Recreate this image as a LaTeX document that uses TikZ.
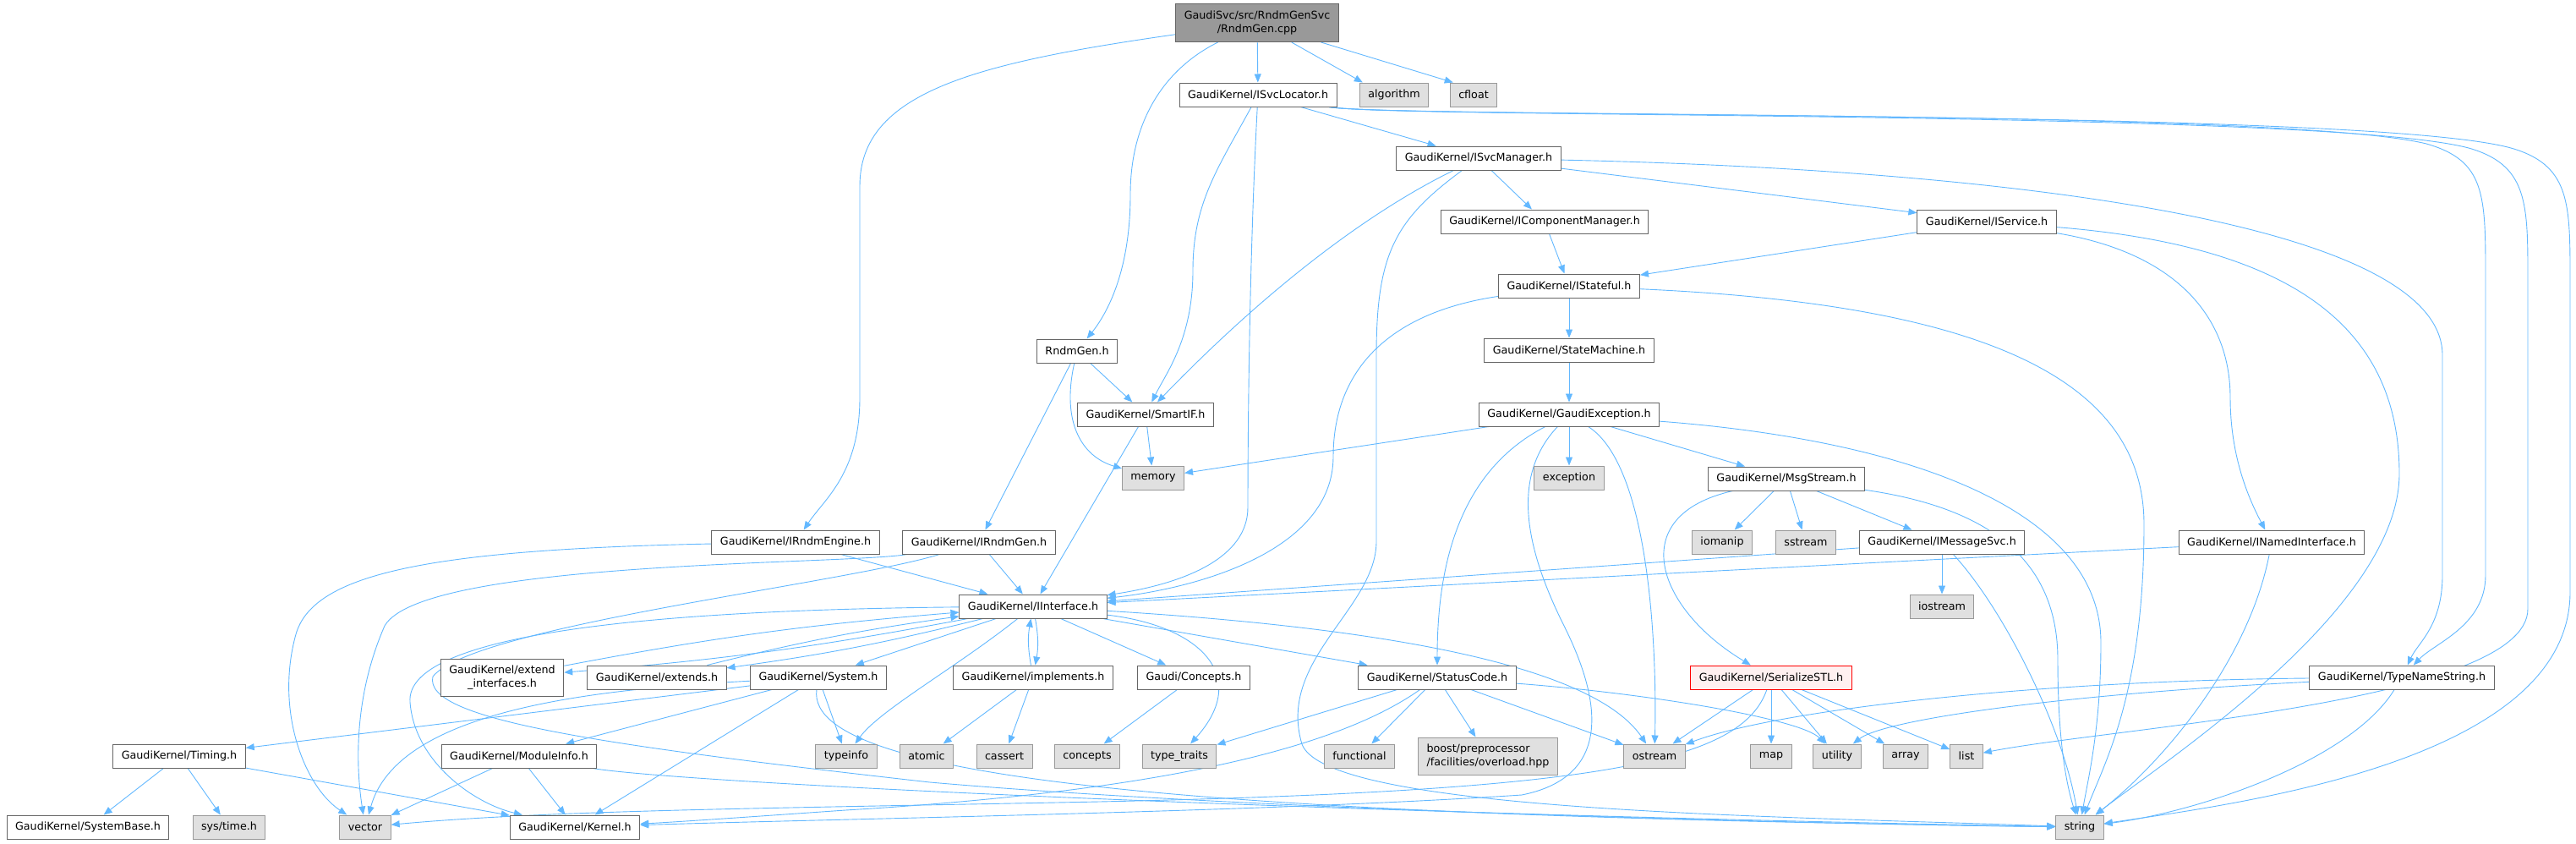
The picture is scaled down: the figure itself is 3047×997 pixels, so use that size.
\documentclass[tikz,border=0pt]{standalone}
\usepackage{fontspec}
\setmainfont{DejaVu Sans}
\usetikzlibrary{arrows.meta}
\definecolor{deplink}{HTML}{63B8FF}
\definecolor{hdrline}{HTML}{666666}
\definecolor{sysline}{HTML}{999999}
\definecolor{sysfill}{HTML}{E0E0E0}
\definecolor{srcfill}{HTML}{999999}
\definecolor{truncfill}{HTML}{FFF0F0}
\pgfdeclarelayer{bg}
\pgfsetlayers{bg,main}

\begin{document}
\begin{tikzpicture}[
        x=1pt, y=-1pt,
        every node/.style={font=\fontsize{12.7}{16}\selectfont},
        hdr/.style={rectangle, draw=hdrline, fill=white, line width=1pt, inner xsep=10pt, inner ysep=0pt, minimum height=28pt},
        syshdr/.style={hdr, draw=sysline, fill=sysfill},
        srcfile/.style={hdr, fill=srcfill, align=center, minimum height=45pt},
        trunchdr/.style={hdr, draw=red, fill=truncfill},
        dep/.style={draw=deplink, line width=0.9pt, ->, >={Triangle[length=10pt,width=8pt]}}
    ]
    \useasboundingbox (0,0) rectangle (3047,997);

    % Nodes
    \node (src) [srcfile] at (1487,27) {GaudiSvc/src/RndmGenSvc\\/RndmGen.cpp};
    \node (svcloc) [hdr] at (1488,112) {GaudiKernel/ISvcLocator.h};
    \node (algorithm) [syshdr] at (1649,112) {algorithm};
    \node (cfloat) [syshdr] at (1743,112) {cfloat};
    \node (svcmgr) [hdr] at (1749,187) {GaudiKernel/ISvcManager.h};
    \node (compmgr) [hdr] at (1827,262) {GaudiKernel/IComponentManager.h};
    \node (iservice) [hdr] at (2350,262) {GaudiKernel/IService.h};
    \node (istateful) [hdr] at (1856,338) {GaudiKernel/IStateful.h};
    \node (rndmgen) [hdr] at (1274,415) {RndmGen.h};
    \node (statemach) [hdr] at (1856,414) {GaudiKernel/StateMachine.h};
    \node (smartif) [hdr] at (1355,490) {GaudiKernel/SmartIF.h};
    \node (gexc) [hdr] at (1856,490) {GaudiKernel/GaudiException.h};
    \node (memory) [syshdr] at (1364,565) {memory};
    \node (exception) [syshdr] at (1856,565) {exception};
    \node (msgstream) [hdr] at (2113,566) {GaudiKernel/MsgStream.h};
    \node (irndmeng) [hdr] at (941,641) {GaudiKernel/IRndmEngine.h};
    \node (irndmgen) [hdr] at (1158,641) {GaudiKernel/IRndmGen.h};
    \node (iomanip) [syshdr] at (2037,641) {iomanip};
    \node (sstream) [syshdr] at (2136,641) {sstream};
    \node (imsgsvc) [hdr] at (2297,641) {GaudiKernel/IMessageSvc.h};
    \node (inamed) [hdr] at (2687,641) {GaudiKernel/INamedInterface.h};
    \node (iinterface) [hdr] at (1222,717) {GaudiKernel/IInterface.h};
    \node (iostream) [syshdr] at (2297,717) {iostream};
    \node (extifaces) [hdr, align=center, minimum height=44pt] at (594,801) {GaudiKernel/extend\\\_interfaces.h};
    \node (extends) [hdr] at (777,801) {GaudiKernel/extends.h};
    \node (system) [hdr] at (968,801) {GaudiKernel/System.h};
    \node (implements) [hdr] at (1222,801) {GaudiKernel/implements.h};
    \node (conceptsh) [hdr] at (1412,801) {Gaudi/Concepts.h};
    \node (statuscode) [hdr] at (1700,801) {GaudiKernel/StatusCode.h};
    \node (serialize) [trunchdr] at (2095,801) {GaudiKernel/SerializeSTL.h};
    \node (typename) [hdr] at (2841,801) {GaudiKernel/TypeNameString.h};
    \node (timing) [hdr] at (212,894) {GaudiKernel/Timing.h};
    \node (moduleinfo) [hdr] at (614,894) {GaudiKernel/ModuleInfo.h};
    \node (typeinfo) [syshdr] at (1001,894) {typeinfo};
    \node (atomic) [syshdr] at (1096,894) {atomic};
    \node (cassert) [syshdr] at (1188,894) {cassert};
    \node (concepts) [syshdr] at (1286,894) {concepts};
    \node (typetraits) [syshdr] at (1395,894) {type\_traits};
    \node (functional) [syshdr] at (1608,894) {functional};
    \node (boost) [syshdr, align=left, minimum height=44pt] at (1760,894) {boost/preprocessor\\/facilities/overload.hpp};
    \node (ostream) [syshdr] at (1957,894) {ostream};
    \node (map) [syshdr] at (2095,894) {map};
    \node (utility) [syshdr] at (2173,894) {utility};
    \node (array) [syshdr] at (2254,894) {array};
    \node (list) [syshdr] at (2326,894) {list};
    \node (systembase) [hdr] at (104,978) {GaudiKernel/SystemBase.h};
    \node (systime) [syshdr] at (271,978) {sys/time.h};
    \node (vector) [syshdr] at (432,978) {vector};
    \node (kernel) [hdr] at (680,978) {GaudiKernel/Kernel.h};
    \node (string) [syshdr] at (2460,978) {string};

    % Arrows
    \begin{pgfonlayer}{bg}
    \draw [dep] (src) -- (svcloc);
    \draw [dep] (src) -- ([xshift=4pt]algorithm.north west);
    \draw [dep] (src) -- ([xshift=4pt]cfloat.north west);
    \draw [dep] (src) .. controls (1380,80) and (1337,140) .. (1337,230) .. controls (1337,320) and (1310,370) .. (rndmgen);
    \draw [dep] (src) .. controls (1150,75) and (1017,110) .. (1017,220) -- (1017,470) .. controls (1017,560) and (975,590) .. (irndmeng);

    \draw [dep] (svcloc) -- (svcmgr);
    \draw [dep] (svcloc) .. controls (1440,200) and (1411,240) .. (1411,320) .. controls (1411,400) and (1380,440) .. (smartif);
    \draw [dep] (svcloc) .. controls (1478,300) and (1476,500) .. (1476,600) .. controls (1476,660) and (1400,690) .. (iinterface);
    \draw [dep] (svcloc) .. controls (1650,140) and (2700,128) .. (2870,170) .. controls (2940,190) and (2940,230) .. (2940,330) -- (2940,680) .. controls (2940,740) and (2880,760) .. (typename);
    \draw [dep] (svcloc) .. controls (1650,140) and (2750,130) .. (2920,175) .. controls (2990,195) and (2990,240) .. (2990,330) -- (2990,720) .. controls (2990,830) and (2500,860) .. (list);
    \draw [dep] (svcloc) .. controls (1650,140) and (2800,128) .. (2970,175) .. controls (3040,195) and (3040,240) .. (3040,330) -- (3040,700) .. controls (3040,900) and (2650,950) .. (string);

    \draw [dep] (svcmgr) -- (compmgr);
    \draw [dep] (svcmgr) -- (iservice);
    \draw [dep] (svcmgr) .. controls (2350,200) and (2889,260) .. (2889,420) -- (2889,680) .. controls (2889,740) and (2860,760) .. (typename);
    \draw [dep] (svcmgr) .. controls (1620,250) and (1500,340) .. (smartif);
    \draw [dep] (svcmgr) .. controls (1650,260) and (1628,300) .. (1628,420) -- (1628,640) .. controls (1628,720) and (1510,780) .. (1540,880) .. controls (1570,960) and (2100,965) .. (string);

    \draw [dep] (compmgr) -- (istateful);
    \draw [dep] (iservice) -- (istateful);
    \draw [dep] (iservice) .. controls (2580,300) and (2638,380) .. (2638,470) .. controls (2638,540) and (2660,590) .. (inamed);
    \draw [dep] (iservice) .. controls (2700,290) and (2838,380) .. (2838,560) .. controls (2838,720) and (2560,900) .. (string);

    \draw [dep] (istateful) -- (statemach);
    \draw [dep] (istateful) .. controls (1640,370) and (1577,440) .. (1577,540) .. controls (1577,650) and (1420,695) .. (iinterface);
    \draw [dep] (istateful) .. controls (2350,360) and (2536,450) .. (2536,620) .. controls (2536,820) and (2490,900) .. (string);
    \draw [dep] (statemach) -- (gexc);

    \draw [dep] (gexc) -- (memory);
    \draw [dep] (gexc) -- (exception);
    \draw [dep] (gexc) -- (msgstream);
    \draw [dep] (gexc) .. controls (1720,560) and (1700,680) .. (statuscode);
    \draw [dep] (gexc) .. controls (1790,560) and (1800,640) .. (1850,740) .. controls (1900,840) and (1900,920) .. (1800,940) .. controls (1500,960) and (1000,968) .. (kernel);
    \draw [dep] (gexc) .. controls (1950,550) and (1960,760) .. (ostream);
    \draw [dep] (gexc) .. controls (2250,520) and (2485,600) .. (2485,760) .. controls (2485,860) and (2470,920) .. (string);

    \draw [dep] (rndmgen) -- (smartif);
    \draw [dep] (rndmgen) -- (irndmgen);
    \draw [dep] (rndmgen) .. controls (1255,500) and (1280,540) .. (memory);
    \draw [dep] (smartif) -- (iinterface);
    \draw [dep] (smartif) -- (memory);

    \draw [dep] (msgstream) -- (iomanip);
    \draw [dep] (msgstream) -- (sstream);
    \draw [dep] (msgstream) -- (imsgsvc);
    \draw [dep] (msgstream) .. controls (1920,610) and (1960,720) .. (serialize);
    \draw [dep] (msgstream) .. controls (2350,600) and (2434,660) .. (2434,780) .. controls (2434,880) and (2445,930) .. (string);
    \draw [dep] (imsgsvc) -- (iostream);
    \draw [dep] (imsgsvc) -- (iinterface);
    \draw [dep] (imsgsvc) .. controls (2370,720) and (2440,860) .. (string);
    \draw [dep] (inamed) -- (iinterface);
    \draw [dep] (inamed) .. controls (2660,780) and (2560,900) .. (string);

    \draw [dep] (irndmeng) -- (iinterface);
    \draw [dep] (irndmeng) .. controls (500,650) and (370,680) .. (350,750) .. controls (325,840) and (360,930) .. (vector);
    \draw [dep] (irndmgen) -- (iinterface);
    \draw [dep] (irndmgen) .. controls (1000,668) and (500,662) .. (455,740) .. controls (420,820) and (420,900) .. (vector);
    \draw [dep] (irndmgen) .. controls (1000,690) and (560,740) .. (512,800) .. controls (500,850) and (700,880) .. (1100,925) .. controls (1500,960) and (2200,975) .. (string);

    \draw [dep] (iinterface) to[bend left=3] (extifaces);
    \draw [dep] (extifaces) to[bend left=3] (iinterface);
    \draw [dep] (iinterface) to[bend left=3] (extends);
    \draw [dep] (extends) to[bend left=3] (iinterface);
    \draw [dep] (iinterface) -- (system);
    \draw [dep] (iinterface) to[bend left=10] (implements);
    \draw [dep] (implements) to[bend left=10] (iinterface);
    \draw [dep] (iinterface) -- (conceptsh);
    \draw [dep] (iinterface) -- (statuscode);
    \draw [dep] (iinterface) .. controls (1130,790) and (1040,840) .. (typeinfo);
    \draw [dep] (iinterface) .. controls (1420,740) and (1480,800) .. (typetraits);
    \draw [dep] (iinterface) .. controls (1600,740) and (1880,780) .. (ostream);
    \draw [dep] (iinterface) .. controls (700,722) and (480,760) .. (485,830) .. controls (490,900) and (560,950) .. (kernel);

    \draw [dep] (implements) -- (atomic);
    \draw [dep] (implements) -- (cassert);
    \draw [dep] (conceptsh) -- (concepts);

    \draw [dep] (system) -- (timing);
    \draw [dep] (system) -- (moduleinfo);
    \draw [dep] (system) -- (kernel);
    \draw [dep] (system) -- (typeinfo);
    \draw [dep] (system) .. controls (700,815) and (470,840) .. (vector);
    \draw [dep] (system) .. controls (950,930) and (1500,965) .. (string);
    \draw [dep] (timing) -- (systembase);
    \draw [dep] (timing) -- (systime);
    \draw [dep] (timing) -- (kernel);
    \draw [dep] (moduleinfo) -- (kernel);
    \draw [dep] (moduleinfo) -- (vector);
    \draw [dep] (moduleinfo) .. controls (800,925) and (1500,960) .. (string);

    \draw [dep] (statuscode) -- (typetraits);
    \draw [dep] (statuscode) -- (functional);
    \draw [dep] (statuscode) -- (boost);
    \draw [dep] (statuscode) -- (ostream);
    \draw [dep] (statuscode) .. controls (1950,820) and (2130,850) .. (utility);
    \draw [dep] (statuscode) .. controls (1560,900) and (1300,940) .. (1000,958) .. controls (900,965) and (800,972) .. (kernel);

    \draw [dep] (serialize) -- (ostream);
    \draw [dep] (serialize) -- (map);
    \draw [dep] (serialize) -- (utility);
    \draw [dep] (serialize) -- (array);
    \draw [dep] (serialize) -- (list);
    \draw [dep] (serialize) .. controls (2060,900) and (1900,935) .. (1300,948) .. controls (900,956) and (650,958) .. (vector);

    \draw [dep] (typename) .. controls (2400,805) and (2100,840) .. (ostream);
    \draw [dep] (typename) .. controls (2450,820) and (2230,850) .. (utility);
    \draw [dep] (typename) .. controls (2780,900) and (2600,960) .. (string);
    \end{pgfonlayer}

    \end{tikzpicture}
\end{document}
